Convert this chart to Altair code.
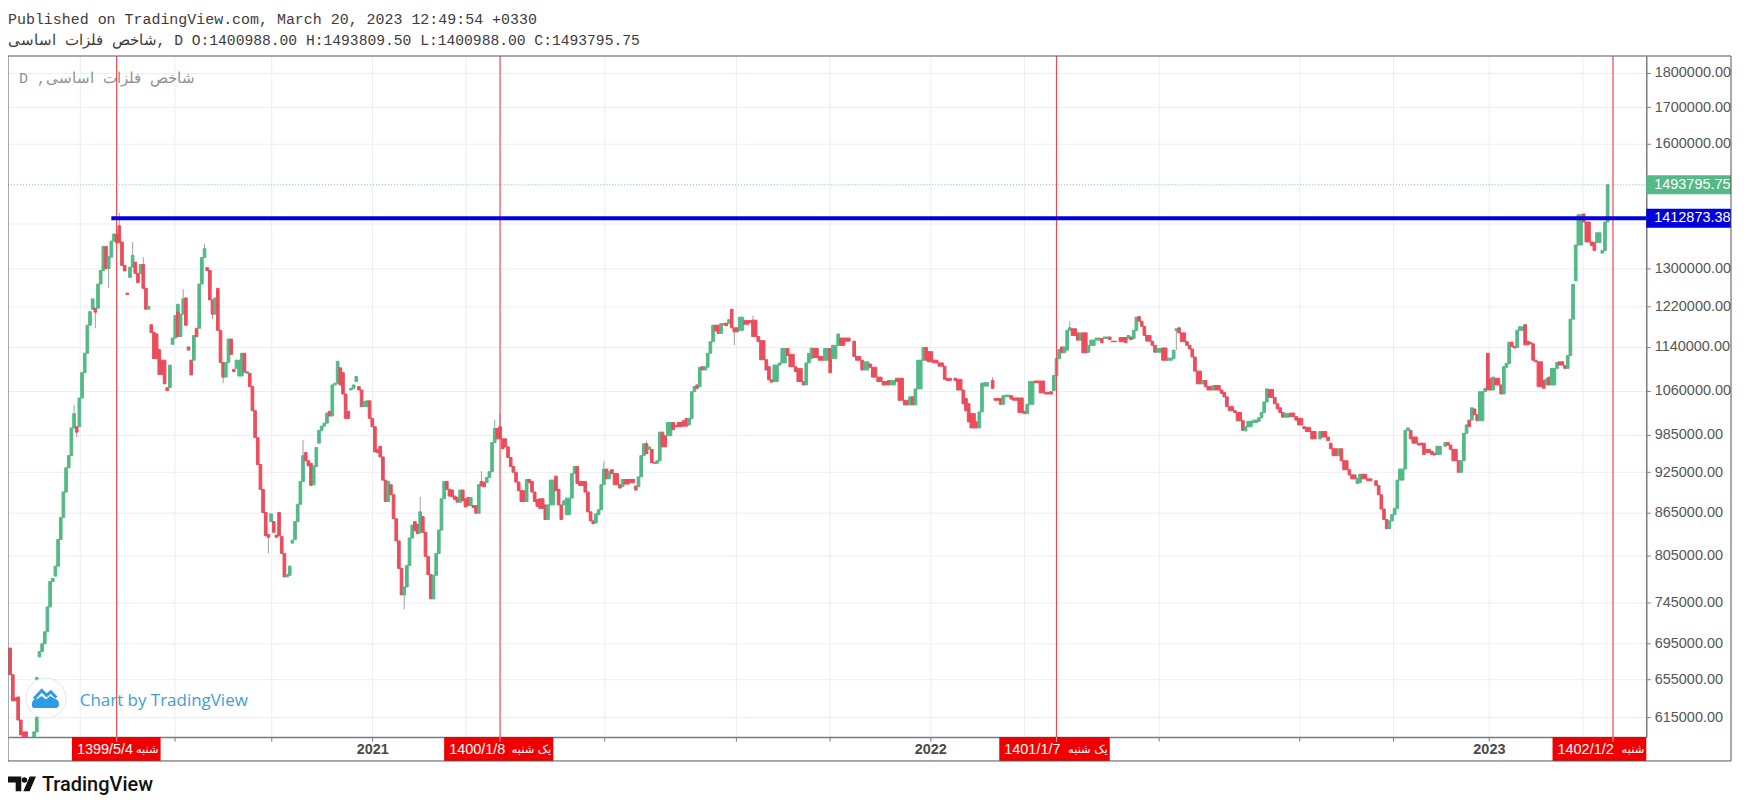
"""TradingView style daily candles of the Iranian base metals index, log price scale."""

import altair as alt
import pandas as pd

# candles, prices in thousands
bars = [
    1, 2, 3, 4, 5, 6, 10, 11, 11, 12,
    13, 14, 15, 16, 17, 18, 19, 20, 21, 22,
    23, 24, 25, 26, 27, 28, 29, 30, 31, 32,
    33, 34, 35, 36, 37, 38, 39, 40, 41, 42,
    43, 44, 45, 46, 47, 48, 49, 50, 51, 52,
    53, 54, 55, 56, 57, 58, 59, 60, 61, 62,
    63, 64, 64, 65, 66, 67, 68, 69, 70, 71,
    72, 73, 74, 75, 76, 77, 78, 79, 80, 81,
    82, 83, 84, 85, 86, 87, 88, 89, 90, 91,
    92, 93, 94, 95, 96, 97, 98, 99, 100, 101,
    102, 103, 104, 105, 106, 107, 108, 109, 110, 111,
    112, 113, 114, 115, 116, 117, 118, 119, 120, 121,
    122, 123, 124, 125, 126, 127, 128, 129, 130, 131,
    132, 133, 134, 135, 136, 137, 138, 139, 140, 141,
    142, 143, 144, 145, 146, 147, 148, 149, 150, 151,
    152, 153, 154, 155, 156, 157, 158, 159, 160, 161,
    162, 163, 164, 165, 166, 167, 168, 169, 170, 171,
    172, 173, 174, 175, 176, 177, 178, 179, 180, 181,
    182, 183, 184, 185, 186, 187, 188, 189, 190, 191,
    192, 193, 195, 196, 197, 198, 199, 200, 202, 203,
    204, 206, 207, 208, 209, 210, 212, 213, 214, 215,
    217, 218, 219, 220, 221, 222, 223, 224, 225, 226,
    227, 228, 230, 231, 232, 234, 236, 237, 238, 239,
    240, 241, 242, 243, 244, 245, 246, 247, 248, 250,
    251, 252, 254, 255, 256, 257, 258, 259, 260, 261,
    262, 263, 264, 265, 266, 267, 268, 269, 270, 271,
    272, 273, 275, 277, 279, 280, 282, 283, 285, 286,
    287, 288, 290, 291, 293, 294, 296, 297, 299, 300,
    301, 302, 303, 305, 307, 309, 310, 312, 313, 315,
    318, 319, 321, 322, 324, 325, 327, 329, 331, 332,
    334, 335, 337, 339, 340, 341, 342, 344, 345, 346,
    348, 350, 352, 353, 356, 357, 359, 360, 361, 362,
    364, 365, 366, 367, 370, 371, 373, 374, 375, 377,
    378, 380, 382, 383, 384, 386, 388, 390, 392, 393,
    394, 395, 396, 397, 398, 399, 400, 402, 403, 404,
    406, 407, 409, 411, 412, 414, 415, 418, 420, 421,
    422, 423, 424, 425, 426, 427, 428, 430, 431, 432,
    434, 436, 438, 439, 440, 441, 443, 444, 445, 446,
    447, 449, 450, 451, 453, 454, 456, 457, 458, 459,
    461, 462, 464, 465, 466, 468, 470, 471, 472, 473,
    474, 476, 477, 478, 479, 480, 482, 484, 485, 487,
    488, 490, 493, 494, 496, 497, 498, 500, 501, 502,
    504, 505, 507, 508, 509, 511, 514, 515, 516, 517,
    518, 519, 520, 521, 522, 523, 525, 526, 527, 528,
    530, 532, 533, 535, 536, 537, 540, 541, 542, 543,
    545, 546, 547, 548, 549, 550, 551, 552, 553, 555,
    556, 557, 558, 559, 561, 562, 563, 564, 565, 566,
    567, 568, 570, 571, 572, 573, 574, 575, 577, 578,
    579, 580, 582, 583, 584, 585, 586, 587, 588, 589,
    590, 592, 593, 595, 596, 597, 599, 600, 601,
]
opens = [
    690, 660, 635, 636, 612, 600, 594, 600, 655, 680,
    686, 695, 709, 739, 771, 778, 791, 827, 858, 895,
    932, 951, 996, 998, 998, 1047, 1092, 1128, 1182, 1214,
    1216, 1216, 1266, 1295, 1348, 1299, 1324, 1360, 1376, 1395,
    1358, 1306, 1247, 1280, 1302, 1313, 1289, 1288, 1308, 1257,
    1214, 1183, 1168, 1165, 1135, 1115, 1115, 1065, 1065, 1145,
    1157, 1204, 1208, 1160, 1204, 1237, 1140, 1115, 1115, 1176,
    1176, 1266, 1323, 1301, 1295, 1233, 1204, 1257, 1172, 1111,
    1084, 1111, 1155, 1098, 1100, 1086, 1086, 1128, 1091, 1091,
    1067, 1025, 980, 937, 899, 865, 834, 852, 852, 833,
    865, 831, 808, 777, 779, 822, 827, 852, 877, 911,
    956, 943, 939, 906, 934, 971, 992, 999, 1004, 1024,
    1016, 1070, 1073, 1101, 1092, 1054, 1024, 1061, 1064, 1076,
    1067, 1061, 1032, 1032, 1042, 1012, 998, 961, 966, 949,
    913, 881, 906, 891, 856, 825, 788, 754, 764, 792,
    829, 852, 848, 836, 859, 837, 804, 780, 749, 779,
    808, 840, 885, 911, 899, 898, 889, 887, 880, 898,
    885, 887, 875, 875, 875, 864, 911, 910, 909, 917,
    926, 972, 995, 998, 978, 978, 965, 948, 934, 925,
    910, 897, 881, 914, 911, 895, 884, 885, 876, 855,
    876, 919, 899, 876, 876, 862, 886, 923, 934, 911,
    911, 895, 866, 853, 850, 862, 869, 906, 930, 915,
    929, 923, 906, 903, 914, 914, 904, 903, 918, 951,
    970, 961, 961, 940, 939, 943, 989, 983, 983, 1005,
    1000, 1005, 1008, 1012, 1001, 1012, 1058, 1070, 1067, 1103,
    1097, 1102, 1128, 1150, 1182, 1182, 1166, 1185, 1186, 1186,
    1214, 1177, 1172, 1191, 1191, 1192, 1160, 1152, 1116, 1103,
    1079, 1076, 1106, 1110, 1137, 1126, 1103, 1100, 1076, 1070,
    1110, 1118, 1137, 1122, 1115, 1137, 1118, 1143, 1157, 1157,
    1151, 1122, 1115, 1097, 1108, 1102, 1084, 1076, 1078, 1070,
    1082, 1082, 1043, 1035, 1049, 1035, 1063, 1115, 1139, 1131,
    1115, 1110, 1104, 1082, 1082, 1080, 1061, 1046, 1037, 1020,
    1006, 996, 1023, 1068, 1078, 1046, 1046, 1036, 1049, 1051,
    1047, 1047, 1024, 1020, 1036, 1077, 1077, 1057, 1058, 1060,
    1087, 1118, 1140, 1129, 1134, 1172, 1175, 1167, 1153, 1167,
    1130, 1143, 1153, 1156, 1156, 1159, 1151, 1158, 1158, 1156,
    1159, 1156, 1172, 1199, 1190, 1180, 1162, 1151, 1143, 1130,
    1138, 1115, 1118, 1172, 1177, 1167, 1150, 1143, 1136, 1121,
    1095, 1072, 1078, 1067, 1061, 1069, 1061, 1057, 1049, 1032,
    1025, 1022, 1008, 991, 998, 1005, 1007, 1013, 1022, 1040,
    1062, 1048, 1037, 1030, 1022, 1014, 1021, 1015, 1012, 998,
    997, 990, 978, 990, 981, 971, 962, 951, 962, 943,
    929, 921, 908, 909, 922, 915, 912, 905, 891, 870,
    855, 842, 853, 862, 871, 913, 930, 992, 992, 981,
    971, 971, 961, 958, 955, 953, 966, 972, 968, 961,
    943, 925, 943, 987, 1009, 1009, 1028, 1018, 1008, 1058,
    1128, 1082, 1061, 1082, 1070, 1054, 1102, 1109, 1149, 1141,
    1139, 1172, 1183, 1151, 1149, 1146, 1115, 1112, 1078, 1070,
    1084, 1070, 1100, 1112, 1112, 1105, 1100, 1124, 1194, 1273,
    1351, 1423, 1404, 1358, 1357, 1357, 1333, 1339, 1404,
]
closes = [
    660, 632, 632, 612, 597, 594, 600, 615, 657, 686,
    695, 709, 739, 771, 775, 791, 827, 858, 895, 932,
    951, 996, 1020, 989, 1047, 1092, 1128, 1182, 1209, 1235,
    1208, 1266, 1295, 1348, 1299, 1326, 1360, 1376, 1356, 1356,
    1306, 1294, 1244, 1302, 1328, 1289, 1269, 1308, 1257, 1214,
    1220, 1168, 1118, 1118, 1089, 1089, 1072, 1060, 1106, 1157,
    1201, 1224, 1160, 1204, 1235, 1182, 1134, 1088, 1162, 1160,
    1266, 1323, 1343, 1295, 1233, 1204, 1237, 1172, 1111, 1084,
    1111, 1155, 1126, 1094, 1115, 1115, 1128, 1093, 1094, 1067,
    1025, 980, 937, 899, 865, 832, 830, 863, 837, 830,
    832, 808, 777, 780, 791, 826, 852, 877, 911, 951,
    943, 935, 905, 935, 964, 992, 999, 1004, 1021, 1016,
    1070, 1073, 1113, 1070, 1054, 1012, 1012, 1064, 1070, 1085,
    1061, 1032, 1041, 1042, 1012, 998, 957, 956, 949, 913,
    881, 911, 891, 856, 825, 788, 754, 764, 792, 829,
    847, 839, 835, 866, 837, 804, 780, 749, 779, 808,
    840, 885, 911, 899, 889, 888, 884, 880, 898, 882,
    873, 875, 887, 872, 864, 906, 904, 903, 917, 926,
    972, 995, 978, 978, 962, 965, 948, 934, 925, 910,
    897, 881, 914, 909, 895, 881, 874, 871, 855, 876,
    913, 897, 876, 855, 882, 886, 923, 934, 908, 905,
    895, 866, 853, 849, 863, 869, 906, 930, 915, 926,
    923, 906, 901, 914, 907, 909, 898, 918, 951, 970,
    954, 965, 940, 939, 943, 989, 965, 965, 1005, 993,
    998, 998, 999, 999, 1012, 1058, 1067, 1064, 1102, 1097,
    1103, 1128, 1150, 1182, 1171, 1166, 1185, 1183, 1181, 1193,
    1177, 1169, 1198, 1184, 1187, 1160, 1150, 1116, 1097, 1079,
    1075, 1106, 1110, 1137, 1124, 1103, 1094, 1076, 1070, 1110,
    1128, 1138, 1120, 1115, 1137, 1092, 1143, 1165, 1143, 1151,
    1122, 1115, 1097, 1112, 1102, 1084, 1076, 1070, 1070, 1078,
    1076, 1043, 1035, 1049, 1035, 1063, 1115, 1139, 1115, 1112,
    1110, 1104, 1080, 1078, 1078, 1061, 1037, 1025, 1006, 996,
    996, 1023, 1073, 1074, 1064, 1043, 1036, 1051, 1052, 1045,
    1043, 1022, 1020, 1036, 1076, 1074, 1056, 1054, 1054, 1087,
    1118, 1135, 1129, 1140, 1172, 1177, 1162, 1153, 1167, 1129,
    1143, 1153, 1157, 1148, 1159, 1154, 1150, 1150, 1148, 1162,
    1154, 1172, 1198, 1190, 1180, 1162, 1151, 1143, 1130, 1137,
    1115, 1119, 1134, 1175, 1167, 1150, 1143, 1136, 1121, 1095,
    1072, 1078, 1067, 1061, 1069, 1061, 1055, 1049, 1032, 1025,
    1022, 1008, 992, 998, 1007, 1009, 1013, 1022, 1040, 1063,
    1048, 1037, 1028, 1022, 1014, 1020, 1015, 1009, 1001, 995,
    990, 978, 990, 981, 975, 962, 951, 962, 943, 929,
    921, 915, 916, 922, 915, 912, 905, 891, 870, 855,
    842, 853, 862, 871, 913, 930, 992, 996, 978, 971,
    968, 953, 956, 953, 952, 966, 972, 968, 961, 943,
    925, 943, 987, 1001, 998, 1030, 1018, 1008, 1058, 1064,
    1061, 1061, 1084, 1070, 1054, 1103, 1109, 1149, 1141, 1138,
    1172, 1179, 1144, 1144, 1146, 1115, 1112, 1067, 1064, 1081,
    1070, 1100, 1111, 1106, 1106, 1100, 1124, 1194, 1265, 1351,
    1421, 1404, 1358, 1350, 1339, 1379, 1339, 1404, 1494,
]

# the few visible wicks
wick_bars = [25, 26, 33, 38, 42, 47, 51, 66, 74, 77, 81, 98, 111, 149, 155, 178, 183, 185, 224, 240, 273, 280, 370, 399, 439]
wick_lows = [996, 981, 1176, 1258, 1395, 1328, 1308, 1235, 1343, 1194, 1073, 808, 951, 736, 866, 911, 995, 998, 930, 970, 1143, 1192, 1078, 1177, 1134]
wick_highs = [1035, 998, 1208, 1299, 1425, 1358, 1324, 1255, 1354, 1204, 1084, 830, 976, 754, 888, 927, 1010, 1020, 942, 975, 1169, 1201, 1084, 1190, 1172]

price_ticks = [1800000, 1700000, 1600000, 1400000, 1300000, 1220000, 1140000, 1060000, 985000, 925000, 865000, 805000, 745000, 695000, 655000, 615000]
month_bars = [27, 62.7, 99, 137, 172, 224, 273.6, 308.8, 346.6, 381.8, 432.4, 485, 520.4, 556.4, 591.6]
year_bars = [137, 346.6, 556.4]
year_labels = ["2021", "2022", "2023"]

marker_bars = [41, 185, 394, 603]
marker_dates = ["1399/5/4", "1400/1/8", "1401/1/7", "1402/1/2"]
marker_days = ["شنبه", "یک شنبه", "یک شنبه", "شنبه"]
tag_starts = [24.2, 164, 372.5, 580.3]
tag_ends = [57.5, 205, 414, 615.5]

last_close = 1493795.75
level_price = 1412873.38
level_start_bar = 39

name = "شاخص فلزات اساسی"
GREEN = "#53b987"
RED = "#eb4d5c"
FONT = "Liberation Sans"
PANE_W = 1643
PANE_H = 683
FRAME_W = 1728
FRAME_H = 707

x_scale = alt.Scale(domain=[0.19, 615.5], zero=False, nice=False)
y_scale = alt.Scale(type="log", domain=[594900, 1851600], nice=False)
side_scale = alt.Scale(domain=["up", "down"], range=[GREEN, RED])
one_row = alt.Data(values=[{"a": 1}])

candles = pd.DataFrame({"bar": bars, "open": opens, "close": closes})
candles["open"] *= 1000
candles["close"] *= 1000
gap = candles["bar"].shift(-1).fillna(candles["bar"] + 1) - candles["bar"]
candles["start"] = candles["bar"] - 0.5
candles["end"] = candles["start"] + gap.clip(1, 2)
candles["side"] = ["up" if c >= o else "down" for o, c in zip(candles["open"], candles["close"])]

wicks = pd.DataFrame({"bar": wick_bars, "low": wick_lows, "high": wick_highs})
wicks["low"] *= 1000
wicks["high"] *= 1000

markers = pd.DataFrame(
    {"bar": marker_bars, "date": marker_dates, "day": marker_days, "start": tag_starts, "end": tag_ends}
)
prices = pd.DataFrame({"price": [last_close], "label": [f"{last_close:.2f}"]})
levels = pd.DataFrame({"price": [level_price], "label": [f"{level_price:.2f}"], "bar": [level_start_bar]})

year_expr = " : ".join(f"datum.value == {b} ? '{t}'" for b, t in zip(year_bars, year_labels)) + " : ''"
# 1400000 only has its gridline, its label sits behind the blue price tag
price_expr = "datum.value == 1400000 ? '' : format(datum.value, '.2f')"


def note(text, x, y, **style):
    return (
        alt.Chart(one_row)
        .mark_text(text=text, align="left", baseline="middle", **style)
        .encode(x=alt.value(x), y=alt.value(y))
    )


def glyph(shape, x, y, size, **style):
    return alt.Chart(one_row).mark_point(shape=shape, size=size, **style).encode(x=alt.value(x), y=alt.value(y))


wick_layer = (
    alt.Chart(wicks)
    .mark_rule(color="#9aa5a0", strokeWidth=1, clip=True)
    .encode(
        x=alt.X("bar:Q", scale=x_scale, axis=None),
        y=alt.Y("low:Q", scale=y_scale, axis=None),
        y2="high:Q",
    )
)

candle_layer = (
    alt.Chart(candles)
    .mark_rect(strokeWidth=1, clip=True)
    .encode(
        x=alt.X(
            "start:Q",
            scale=x_scale,
            axis=alt.Axis(
                values=month_bars,
                labelExpr=year_expr,
                title=None,
                grid=True,
                gridColor="#eceef2",
                domainColor="#787b86",
                domainWidth=1.5,
                tickColor="#787b86",
                tickSize=4,
                labelPadding=2,
                labelFont=FONT,
                labelFontSize=14.5,
                labelFontWeight="bold",
                labelColor="#4a4a4a",
                labelOverlap=False,
                labelFlush=False,
            ),
        ),
        x2="end:Q",
        y=alt.Y(
            "open:Q",
            scale=y_scale,
            axis=alt.Axis(
                orient="right",
                values=price_ticks,
                labelExpr=price_expr,
                title=None,
                grid=True,
                gridColor="#eceef2",
                domainColor="#787b86",
                domainWidth=1.5,
                tickColor="#787b86",
                tickSize=4,
                labelPadding=4,
                labelFont=FONT,
                labelFontSize=14.5,
                labelColor="#555555",
                labelOverlap=False,
                labelBound=False,
            ),
        ),
        y2="close:Q",
        color=alt.Color("side:N", scale=side_scale, legend=None),
        stroke=alt.Stroke("side:N", scale=side_scale, legend=None),
    )
)

last_line = (
    alt.Chart(prices)
    .mark_rule(color=GREEN, strokeWidth=1, strokeDash=[1, 2], opacity=0.8)
    .encode(x=alt.value(0), x2=alt.value(PANE_W), y=alt.Y("price:Q", scale=y_scale, axis=None))
)
level_line = (
    alt.Chart(levels)
    .mark_rule(color="#0000dd", strokeWidth=4)
    .encode(
        x=alt.X("bar:Q", scale=x_scale, axis=None),
        x2=alt.value(PANE_W),
        y=alt.Y("price:Q", scale=y_scale, axis=None),
    )
)

marker_lines = (
    alt.Chart(markers)
    .mark_rule(color="#f0484e", strokeWidth=1.2)
    .encode(x=alt.X("bar:Q", scale=x_scale, axis=None), y=alt.value(0), y2=alt.value(PANE_H + 5))
)
marker_tags = (
    alt.Chart(markers)
    .mark_rect(color="#f00000")
    .encode(
        x=alt.X("start:Q", scale=x_scale, axis=None),
        x2="end:Q",
        y=alt.value(PANE_H),
        y2=alt.value(FRAME_H),
    )
)
marker_date_text = (
    alt.Chart(markers)
    .mark_text(align="left", baseline="middle", dx=5, color="white", font=FONT, fontSize=14.5)
    .encode(x=alt.X("start:Q", scale=x_scale, axis=None), y=alt.value(PANE_H + 13), text="date:N")
)
marker_day_text = (
    alt.Chart(markers)
    .mark_text(align="right", baseline="middle", dx=-2, color="white", font="DejaVu Sans", fontSize=11.5)
    .encode(x=alt.X("end:Q", scale=x_scale, axis=None), y=alt.value(PANE_H + 13), text="day:N")
)
# tags drawn over the marker lines, small tick of the line stays visible
marker_ticks = (
    alt.Chart(markers)
    .mark_rule(color="#ff9a9a", strokeWidth=1)
    .encode(x=alt.X("bar:Q", scale=x_scale, axis=None), y=alt.value(PANE_H), y2=alt.value(PANE_H + 5))
)

last_tag = (
    alt.Chart(prices)
    .mark_rule(color=GREEN, strokeWidth=19)
    .encode(x=alt.value(PANE_W), x2=alt.value(FRAME_W), y=alt.Y("price:Q", scale=y_scale, axis=None))
)
level_tag = (
    alt.Chart(levels)
    .mark_rule(color="#0000dd", strokeWidth=19)
    .encode(x=alt.value(PANE_W), x2=alt.value(FRAME_W), y=alt.Y("price:Q", scale=y_scale, axis=None))
)
last_text = (
    alt.Chart(prices)
    .mark_text(align="left", baseline="middle", color="white", font=FONT, fontSize=14.5)
    .encode(x=alt.value(PANE_W + 8), y=alt.Y("price:Q", scale=y_scale, axis=None), text="label:N")
)
level_text = (
    alt.Chart(levels)
    .mark_text(align="left", baseline="middle", color="white", font=FONT, fontSize=14.5)
    .encode(x=alt.value(PANE_W + 8), y=alt.Y("price:Q", scale=y_scale, axis=None), text="label:N")
)

frame = (
    alt.Chart(one_row)
    .mark_rect(fillOpacity=0, stroke="#555555", strokeWidth=1)
    .encode(x=alt.value(0), x2=alt.value(FRAME_W), y=alt.value(0), y2=alt.value(FRAME_H))
)

header_1 = note(
    "Published on TradingView.com, March 20, 2023 12:49:54 +0330", 0, -37,
    font="Liberation Mono", fontSize=15, color="#3c3c3c",
)
header_2 = note(
    f"{name}, D O:1400988.00 H:1493809.50 L:1400988.00 C:1493795.75", 0, -15,
    font="Liberation Mono", fontSize=14.7, color="#3c3c3c",
)
watermark = note(f"D ,{name}", 11, 22, font="Liberation Mono", fontSize=15, color="#8e9199")

badge = glyph("circle", 38, 644, 1600, filled=True, fill="white", stroke="#e3e5ea", strokeWidth=1, opacity=1)
cloud = glyph(
    "M-1,0.45 C-1,0.1 -0.75,0.05 -0.6,0.05 L-0.3,-0.15 L0,0.1 L0.3,-0.15 L0.75,0.1 C1,0.15 1,0.7 0.75,0.7 L-0.8,0.7 C-1,0.7 -1,0.55 -1,0.45 Z",
    38, 644, 784, filled=True, fill="#2e9be6", opacity=1,
)
peak_line = glyph(
    "M-0.85,0.05 L-0.3,-0.55 L0.05,-0.2 L0.35,-0.45 L0.75,-0.05",
    38, 644, 784, filled=False, stroke="#2e9be6", strokeWidth=3, opacity=1,
)
chart_by = note("Chart by TradingView", 72, 647, font="Open Sans", fontSize=17, color="#3a9fd6")

brand_icon = glyph(
    "M-1,-0.53 L-0.05,-0.53 L-0.05,0.53 L-0.45,0.53 L-0.45,-0.1 L-1,-0.1 Z M0.55,-0.53 L1,-0.53 L0.55,0.53 L0.1,0.53 Z",
    14, 730, 784, filled=True, fill="#111111", opacity=1,
)
brand_dot = glyph("circle", 16.5, 726, 30, filled=True, fill="#111111", opacity=1)
brand_text = note("TradingView", 34, 731, font="Roboto", fontSize=20, fontWeight=500, color="#111111")

chart = (
    alt.layer(
        last_line,
        wick_layer,
        candle_layer,
        marker_lines,
        level_line,
        badge,
        peak_line,
        cloud,
        chart_by,
        watermark,
        marker_tags,
        marker_ticks,
        marker_date_text,
        marker_day_text,
        last_tag,
        level_tag,
        last_text,
        level_text,
        frame,
        header_1,
        header_2,
        brand_icon,
        brand_dot,
        brand_text,
    )
    .properties(
        width=PANE_W,
        height=PANE_H,
        padding={"left": 0, "top": 47, "right": 90, "bottom": 62},
        autosize=alt.AutoSizeParams(type="none"),
        background="white",
    )
    .resolve_axis(x="independent", y="independent")
    .configure_view(strokeWidth=0)
)

chart.save("out.html", embed_options={"renderer": "svg", "actions": False})
